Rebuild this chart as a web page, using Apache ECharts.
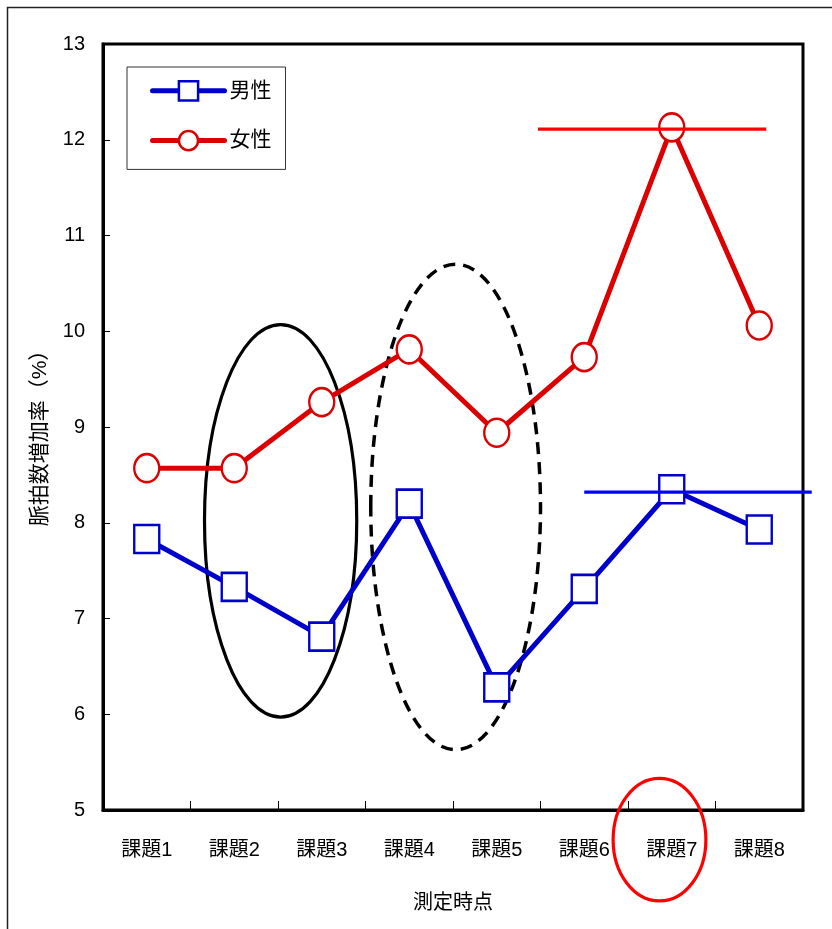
<!DOCTYPE html>
<html>
<head>
<meta charset="utf-8">
<script src="https://cdn.jsdelivr.net/npm/echarts@6/dist/echarts.min.js"></script>
<style>
  html, body { margin: 0; padding: 0; background: #fff; }
  #chart { width: 832px; height: 929px; }
</style>
</head>
<body>
<div id="chart"></div>
<script>
// 測定時点ごとの脈拍数増加率（%）
const categories = ['課題1', '課題2', '課題3', '課題4', '課題5', '課題6', '課題7', '課題8'];
const maleValues = [7.83, 7.33, 6.81, 8.20, 6.28, 7.31, 8.35, 7.93];
const femaleValues = [8.57, 8.57, 9.26, 9.81, 8.94, 9.73, 12.13, 10.06];
const yMin = 5;
const yMax = 13;
const yStep = 1;

// 課題7 の水準を示す横線（値は %）
const femaleLevel = 12.11;
const maleLevel = 8.32;

// 注記の楕円：x はカテゴリ番号（0 始まり）、y は値の単位
const solidEllipse = { cx: 1.53, rx: 0.87, top: 10.07, bottom: 5.97 };
const dashedEllipse = { cx: 3.53, rx: 0.97, top: 10.70, bottom: 5.63 };
const labelEllipse = { cx: 5.86, rx: 0.53, top: 5.33, bottom: 4.05 };
// 横線の範囲（カテゴリ番号）
const femaleLevelSpan = [4.47, 7.08];
const maleLevelSpan = [5.0, 7.60];

const FONT = "'Liberation Sans', 'Noto Sans CJK JP', sans-serif";
const BLUE = '#0000CC';
const RED = '#DD0000';

const chart = echarts.init(document.getElementById('chart'), null, { renderer: 'canvas' });

chart.setOption({
  animation: false,
  backgroundColor: '#fff',
  textStyle: { fontFamily: FONT },
  grid: {
    left: 103, top: 44, right: 29, bottom: 119,
    show: true, borderColor: '#000', borderWidth: 3, backgroundColor: 'transparent'
  },
  legend: {
    orient: 'vertical',
    left: 127, top: 67,
    padding: [13, 14, 18, 23],
    itemWidth: 72, itemHeight: 24, itemGap: 28,
    backgroundColor: '#fff',
    borderColor: '#333', borderWidth: 1, borderRadius: 0,
    lineStyle: { width: 5, cap: 'round' },
    itemStyle: { borderWidth: 2.5 },
    textStyle: { fontSize: 21, color: '#000', fontFamily: FONT },
    data: ['男性', '女性']
  },
  xAxis: {
    type: 'category',
    data: categories,
    boundaryGap: true,
    name: '測定時点',
    nameLocation: 'middle',
    nameGap: 83,
    nameTextStyle: { fontSize: 20, color: '#000', fontFamily: FONT },
    axisLine: { show: true, lineStyle: { color: '#000', width: 3 } },
    axisTick: { show: true, inside: true, length: 9, lineStyle: { color: '#000', width: 1 } },
    axisLabel: { margin: 30, fontSize: 20, color: '#000', fontFamily: FONT },
    splitLine: { show: false }
  },
  yAxis: {
    type: 'value',
    min: yMin, max: yMax, interval: yStep,
    name: '脈拍数増加率（%）',
    nameLocation: 'middle',
    nameGap: 52,
    nameRotate: 90,
    nameTextStyle: { fontSize: 21, color: '#000', fontFamily: FONT, padding: [0, 12, 0, 0] },
    axisLine: { show: true, lineStyle: { color: '#000', width: 3 } },
    axisTick: { show: true, inside: true, length: 7, lineStyle: { color: '#000', width: 1 } },
    axisLabel: { margin: 18, fontSize: 20, color: '#000', fontFamily: FONT },
    splitLine: { show: false }
  },
  series: [
    {
      name: '男性',
      type: 'line',
      data: maleValues,
      symbol: 'rect',
      symbolSize: [25, 28],
      lineStyle: { color: BLUE, width: 5 },
      itemStyle: { color: '#fff', borderColor: BLUE, borderWidth: 2.5 },
      emphasis: { disabled: true },
      z: 5
    },
    {
      name: '女性',
      type: 'line',
      data: femaleValues,
      symbol: 'circle',
      symbolSize: [25, 28],
      lineStyle: { color: RED, width: 5 },
      itemStyle: { color: '#fff', borderColor: RED, borderWidth: 2.5 },
      emphasis: { disabled: true },
      z: 5
    }
  ]
});

// カテゴリ番号（小数可）と値から画素位置を求める
function toPixel(ix, v) {
  const a = chart.convertToPixel({ xAxisIndex: 0, yAxisIndex: 0 }, [categories[0], v]);
  const b = chart.convertToPixel({ xAxisIndex: 0, yAxisIndex: 0 }, [categories[1], v]);
  return [a[0] + ix * (b[0] - a[0]), a[1]];
}

function ellipseShape(e) {
  const t = toPixel(e.cx, e.top);
  const bt = toPixel(e.cx, e.bottom);
  const edge = toPixel(e.cx + e.rx, e.top);
  return { cx: t[0], cy: (t[1] + bt[1]) / 2, rx: edge[0] - t[0], ry: (bt[1] - t[1]) / 2 };
}

function levelLine(span, v) {
  const p1 = toPixel(span[0], v);
  const p2 = toPixel(span[1], v);
  return { x1: p1[0], y1: p1[1], x2: p2[0], y2: p2[1] };
}

chart.setOption({
  graphic: [
    {
      type: 'rect', silent: true, z: 0,
      shape: { x: 7.5, y: 7.5, width: 1000, height: 1000 },
      style: { fill: 'none', stroke: '#222', lineWidth: 1.5 }
    },
    {
      type: 'ellipse', silent: true, z: 1,
      shape: ellipseShape(solidEllipse),
      style: { fill: 'none', stroke: '#000', lineWidth: 3.2 }
    },
    {
      type: 'ellipse', silent: true, z: 1,
      shape: ellipseShape(dashedEllipse),
      style: { fill: 'none', stroke: '#000', lineWidth: 3.5, lineDash: [12, 8] }
    },
    {
      type: 'ellipse', silent: true, z: 10,
      shape: ellipseShape(labelEllipse),
      style: { fill: 'none', stroke: '#FF0000', lineWidth: 3.2 }
    },
    {
      type: 'line', silent: true, z: 10,
      shape: levelLine(femaleLevelSpan, femaleLevel),
      style: { stroke: '#FF0000', lineWidth: 3.2 }
    },
    {
      type: 'line', silent: true, z: 10,
      shape: levelLine(maleLevelSpan, maleLevel),
      style: { stroke: '#0000FF', lineWidth: 3.2 }
    }
  ]
});
</script>
</body>
</html>
